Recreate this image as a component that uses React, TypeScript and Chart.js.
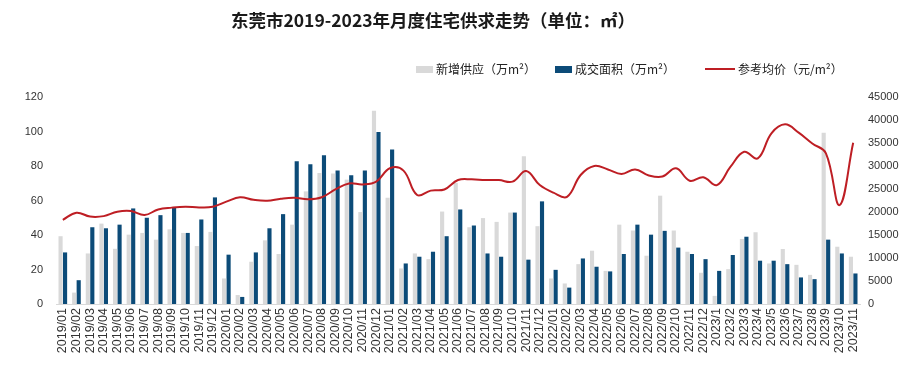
import React, { useEffect, useRef } from "react";
import { Chart, registerables } from "chart.js";

Chart.register(...registerables);

const months: string[] = [
  "2019/01","2019/02","2019/03","2019/04","2019/05","2019/06","2019/07","2019/08","2019/09","2019/10","2019/11","2019/12",
  "2020/01","2020/02","2020/03","2020/04","2020/05","2020/06","2020/07","2020/08","2020/09","2020/10","2020/11","2020/12",
  "2021/01","2021/02","2021/03","2021/04","2021/05","2021/06","2021/07","2021/08","2021/09","2021/10","2021/11","2021/12",
  "2022/01","2022/02","2022/03","2022/04","2022/05","2022/06","2022/07","2022/08","2022/09","2022/10","2022/11","2022/12",
  "2023/1","2023/2","2023/3","2023/4","2023/5","2023/6","2023/7","2023/8","2023/9","2023/10","2023/11",
];

const newSupply: number[] = [
  39.3, 6.6, 29.3, 46.6, 32, 40.2, 41.2, 37.3, 43.3, 41.2, 33.6, 41.8,
  14.8, 5.2, 24.5, 36.9, 29, 46, 65.3, 76, 75.6, 72.1, 53.3, 112,
  61.6, 20.6, 29.3, 26, 53.6, 70.2, 44.5, 49.8, 47.6, 53, 85.7, 45.1,
  14.8, 11.9, 23.1, 30.9, 19.2, 46, 42.6, 28, 62.8, 42.6, 30.3, 18.1,
  4.7, 20.2, 37.7, 41.6, 23.5, 31.9, 22.7, 16.9, 99.3, 33.2, 27.4,
];

const dealArea: number[] = [
  29.9, 13.8, 44.5, 43.9, 46, 55.4, 50, 51.5, 55.8, 41.2, 49, 61.8,
  28.6, 4.1, 29.9, 43.9, 52.1, 82.8, 81, 86.3, 77.4, 74.6, 77.4, 99.7,
  89.6, 23.5, 27.4, 30.3, 39.3, 54.8, 45.5, 29.3, 27.4, 53, 25.7, 59.5,
  19.8, 9.5, 26.4, 21.6, 18.9, 29, 46, 40.2, 42.4, 32.7, 29, 26,
  19.2, 28.4, 39, 25.1, 25.1, 23.1, 15.4, 14.4, 37.3, 29.3, 17.7,
];

const avgPrice: number[] = [
  18300, 19850, 19000, 19100, 20050, 20200, 19350, 20550, 20950, 21150, 21000, 21150,
  22250, 23200, 22650, 22450, 22900, 23100, 22750, 23200, 24900, 26200, 26000, 26600,
  29500, 29000, 23700, 24650, 24900, 26950, 27100, 26950, 26950, 26600, 28900, 25850,
  24200, 23300, 28050, 30000, 29250, 28250, 29250, 27950, 27700, 29500, 26800, 27550,
  25850, 29850, 33100, 31650, 37100, 39050, 37250, 34900, 32750, 21500, 35050,
];

const titleText = "东莞市2019-2023年月度住宅供求走势（单位：㎡）";
const legendSupply = "新增供应（万m²）";
const legendDeal = "成交面积（万m²）";
const legendPrice = "参考均价（元/m²）";

const GRAY = "#D9D9D9";
const BLUE = "#0C4B78";
const RED = "#BE1E24";
const CJK = '"Noto Sans CJK SC", "Noto Sans", sans-serif';
const LAT = '"Liberation Sans", Arial, sans-serif';

export default function App() {
  const ref = useRef<HTMLCanvasElement | null>(null);

  useEffect(() => {
    if (!ref.current) return;
    const chart = new Chart(ref.current, {
      type: "bar",
      data: {
        labels: months,
        datasets: [
          {
            type: "line",
            label: legendPrice,
            data: avgPrice,
            yAxisID: "y1",
            borderColor: RED,
            borderWidth: 2,
            pointRadius: 0,
            tension: 0.4,
            fill: false,
            order: 0,
          },
          {
            type: "bar",
            label: legendSupply,
            data: newSupply,
            yAxisID: "y",
            backgroundColor: GRAY,
            categoryPercentage: 0.66,
            barPercentage: 0.92,
            order: 1,
          },
          {
            type: "bar",
            label: legendDeal,
            data: dealArea,
            yAxisID: "y",
            backgroundColor: BLUE,
            categoryPercentage: 0.66,
            barPercentage: 0.92,
            order: 1,
          },
        ],
      },
      options: {
        animation: false,
        responsive: false,
        maintainAspectRatio: false,
        layout: { padding: { top: 97, bottom: 0, left: 0, right: 0 } },
        plugins: {
          legend: { display: false },
          title: { display: false },
          tooltip: { enabled: false },
        },
        scales: {
          x: {
            grid: { display: false, drawTicks: false },
            border: { display: true, color: "#D9D9D9", width: 1 },
            ticks: {
              autoSkip: false,
              minRotation: 90,
              maxRotation: 90,
              padding: 4,
              color: "#333333",
              font: { family: LAT, size: 12.5 },
            },
            afterFit: (s: any) => {
              s.height = 79;
            },
          },
          y: {
            position: "left",
            min: 0,
            max: 120,
            grid: { display: false, drawTicks: false },
            border: { display: false },
            ticks: {
              stepSize: 20,
              padding: 13,
              color: "#333333",
              font: { family: LAT, size: 11 },
              callback: (v: any) => String(v),
            },
            afterFit: (s: any) => {
              s.width = 56;
            },
          },
          y1: {
            position: "right",
            min: 0,
            max: 45000,
            grid: { display: false, drawTicks: false },
            border: { display: false },
            ticks: {
              stepSize: 5000,
              padding: 8,
              color: "#333333",
              font: { family: LAT, size: 11 },
              callback: (v: any) => String(v),
            },
            afterFit: (s: any) => {
              s.width = 57;
            },
          },
        },
      },
    });
    return () => chart.destroy();
  }, []);

  const legendText: React.CSSProperties = {
    position: "absolute",
    top: 61,
    fontFamily: CJK,
    fontSize: 12,
    lineHeight: "16px",
    color: "#222",
    whiteSpace: "nowrap",
  };

  return (
    <div style={{ position: "absolute", left: 0, top: 0, width: 917, height: 383, background: "#fff" }}>
      <canvas ref={ref} width={917} height={383} style={{ position: "absolute", left: 0, top: 0, width: 917, height: 383 }} />
      <div
        style={{
          position: "absolute",
          left: 0,
          top: 8,
          width: 866,
          textAlign: "center",
          fontFamily: CJK,
          fontWeight: 700,
          fontSize: 17.5,
          lineHeight: "24px",
          color: "#1a1a1a",
          whiteSpace: "nowrap",
        }}
      >
        {titleText}
      </div>
      <div style={{ position: "absolute", left: 416, top: 66, width: 17, height: 7, background: GRAY }} />
      <div style={{ ...legendText, left: 436 }}>{legendSupply}</div>
      <div style={{ position: "absolute", left: 555, top: 66, width: 17, height: 7, background: BLUE }} />
      <div style={{ ...legendText, left: 575 }}>{legendDeal}</div>
      <div style={{ position: "absolute", left: 705, top: 68, width: 30, height: 2, background: RED }} />
      <div style={{ ...legendText, left: 738 }}>{legendPrice}</div>
    </div>
  );
}
